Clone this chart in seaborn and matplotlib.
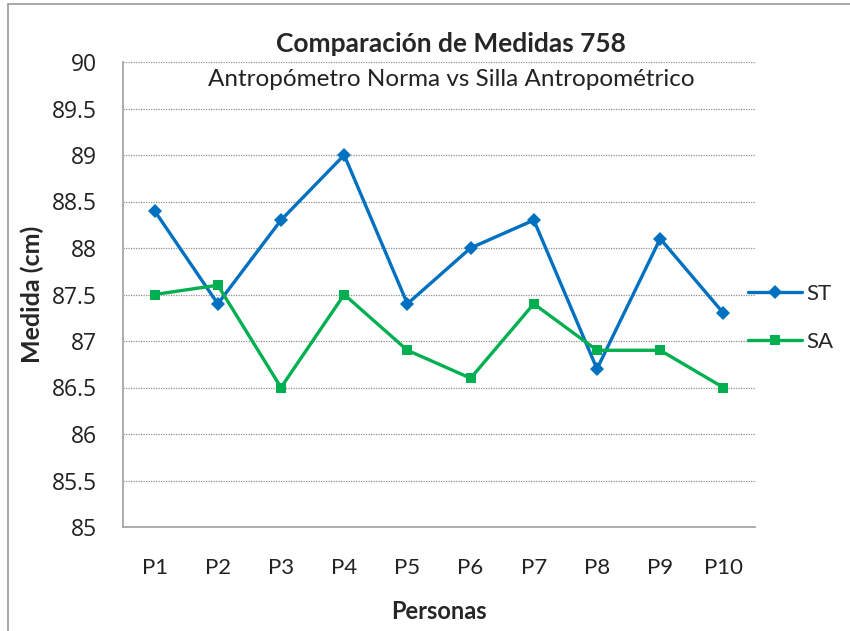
import matplotlib
matplotlib.use("Agg")
import matplotlib.pyplot as plt
import seaborn as sns
import pandas as pd
from matplotlib.patches import Rectangle
from matplotlib.ticker import FixedLocator, FuncFormatter

personas = ["P1", "P2", "P3", "P4", "P5", "P6", "P7", "P8", "P9", "P10"]
st_values = [88.4, 87.4, 88.3, 89.0, 87.4, 88.0, 88.3, 86.7, 88.1, 87.3]
sa_values = [87.5, 87.6, 86.5, 87.5, 86.9, 86.6, 87.4, 86.9, 86.9, 86.5]
series_names = ["ST", "SA"]
y_ticks = [85, 85.5, 86, 86.5, 87, 87.5, 88, 88.5, 89, 89.5, 90]

df = pd.DataFrame({
    "Persona": personas * 2,
    "Medida": st_values + sa_values,
    "Serie": [series_names[0]] * len(personas) + [series_names[1]] * len(personas),
})

sns.set_theme(style="white")
plt.rcParams["font.family"] = ["DejaVu Sans"]

fig = plt.figure(figsize=(8.5, 6.31), dpi=100)
ax = fig.add_axes([123 / 850, 1 - 527 / 631, (755 - 123) / 850, (527 - 62) / 631])

palette = {"ST": "#0070C0", "SA": "#00B050"}
sns.lineplot(data=df, x="Persona", y="Medida", hue="Serie", style="Serie",
             markers={"ST": "D", "SA": "s"}, dashes=False, palette=palette,
             linewidth=2.4, markersize=7, markeredgewidth=0, ax=ax, sort=False)

ax.set_xlim(-0.5, len(personas) - 0.5)
ax.set_ylim(85, 90)
ax.yaxis.set_major_locator(FixedLocator(y_ticks))
ax.yaxis.set_major_formatter(FuncFormatter(lambda v, p: f"{v:g}"))
ax.yaxis.grid(True, linestyle=(0, (1, 1)), color="#909090", linewidth=0.9)
ax.xaxis.grid(False)
ax.set_axisbelow(True)

for s in ["top", "right"]:
    ax.spines[s].set_visible(False)
for s in ["left", "bottom"]:
    ax.spines[s].set_color("#a6a6a6")
    ax.spines[s].set_linewidth(1.3)

ax.set_xticks(range(len(personas)))
ax.set_xticklabels(personas, fontfamily="Lato", fontsize=16)
ax.xaxis.set_minor_locator(FixedLocator([i - 0.5 for i in range(len(personas) + 1)]))
ax.tick_params(axis="x", which="major", length=0, pad=22)
ax.tick_params(axis="x", which="minor", length=7, color="#a6a6a6", width=1, direction="out")
ax.tick_params(axis="y", which="major", length=6, color="#a6a6a6", width=1,
               pad=13, labelcolor="#222222")
for lbl in ax.get_yticklabels():
    lbl.set_fontfamily("Open Sans")
    lbl.set_fontsize(16.5)
ax.tick_params(axis="x", labelcolor="#222222")

ax.set_xlabel("Personas", fontfamily="Lato", fontweight="bold", fontsize=17, labelpad=16)
ax.set_ylabel("Medida (cm)", fontfamily="Lato", fontweight="bold", fontsize=18, labelpad=5)

fig.text(451 / 850, 1 - 44 / 631, "Comparación de Medidas 758", ha="center", va="center",
         fontfamily="Lato", fontweight="bold", fontsize=19)
fig.text(451 / 850, 1 - 80 / 631, "Antropómetro Norma vs Silla Antropométrico", ha="center",
         va="center", fontfamily="Lato", fontsize=17.5, color="#222222")

leg = ax.legend(loc="center left", bbox_to_anchor=(748 / 850, 1 - 318 / 631),
                bbox_transform=fig.transFigure, frameon=False, handlelength=2.43,
                labelspacing=1.25, handletextpad=0.2, borderpad=0, borderaxespad=0,
                prop={"family": "Lato", "size": 16})
leg.set_title(None)

fig.add_artist(Rectangle((8 / 850, -0.1), 1.2, 1 - 4 / 631 + 0.1, transform=fig.transFigure,
                         fill=False, edgecolor="#a0a0a0", linewidth=1.3, clip_on=False))

fig.savefig("out.png", dpi=100, facecolor="white")
